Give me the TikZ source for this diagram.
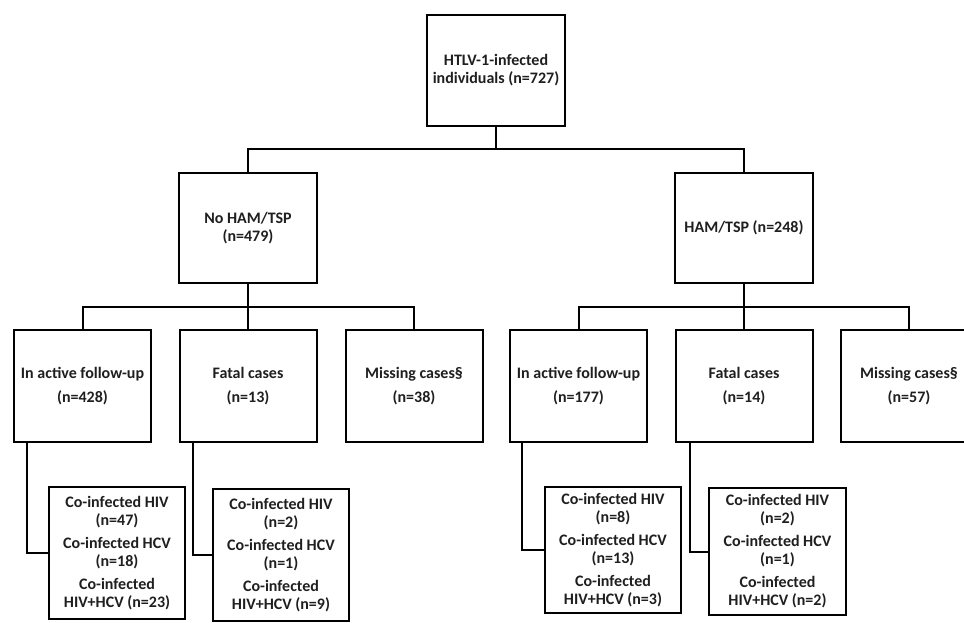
\documentclass[tikz,border=0pt]{standalone}
\usepackage{fontspec}
\setmainfont{Carlito}
\usetikzlibrary{calc}
\begin{document}
\begin{tikzpicture}[x=1pt,y=-1pt,
  box/.style={draw=black,line width=2pt,fill=white,align=center,inner sep=2pt,
    font=\fontsize{16}{18}\selectfont\bfseries,text=black!88,
    minimum width=138pt,minimum height=111pt},
  inbox/.style={box,minimum width=136pt,minimum height=130pt},
  conn/.style={line width=2pt,draw=black}]
\useasboundingbox (0,0) rectangle (964,622);
\fill[white] (0,0) rectangle (964,622);
\clip (0,0) rectangle (964,622);
% level 0
\node[box] (top) at (496,70.5) {HTLV-1-infected\\individuals (n=727)};
% level 1
\node[box,minimum height=110pt] (noham) at (248,228) {No HAM/TSP\\(n=479)};
\node[box,minimum height=110pt] (ham) at (744,228) {HAM/TSP (n=248)};
% level 2
\node[box,minimum width=137pt,minimum height=112pt] (b1) at (82.5,386) {In active follow-up\\[6pt](n=428)};
\node[box,minimum width=137pt,minimum height=112pt] (b2) at (248,386) {Fatal cases\\[6pt](n=13)};
\node[box,minimum width=137pt,minimum height=112pt] (b3) at (414,386) {Missing cases§\\[6pt](n=38)};
\node[box,minimum width=137pt,minimum height=112pt] (b4) at (578.5,386) {In active follow-up\\[6pt](n=177)};
\node[box,minimum width=137pt,minimum height=112pt] (b5) at (744,386) {Fatal cases\\[6pt](n=14)};
\node[box,minimum width=137pt,minimum height=112pt] (b6) at (909,386) {Missing cases§\\[6pt](n=57)};
% level 3
\node[inbox,minimum height=132pt] (i1) at (117,553) {Co-infected HIV\\(n=47)\\[5pt]Co-infected HCV\\(n=18)\\[5pt]Co-infected\\HIV+HCV (n=23)};
\node[inbox,minimum height=132pt] (i2) at (281,555) {Co-infected HIV\\(n=2)\\[5pt]Co-infected HCV\\(n=1)\\[5pt]Co-infected\\HIV+HCV (n=9)};
\node[inbox,minimum height=126pt] (i4) at (613,550) {Co-infected HIV\\(n=8)\\[5pt]Co-infected HCV\\(n=13)\\[5pt]Co-infected\\HIV+HCV (n=3)};
\node[inbox,minimum height=127pt,minimum width=137pt] (i5) at (777.5,551.5) {Co-infected HIV\\(n=2)\\[5pt]Co-infected HCV\\(n=1)\\[5pt]Co-infected\\HIV+HCV (n=2)};
% junctions
\coordinate (j0) at (496,149);
\coordinate (j1) at (248,307);
\coordinate (j2) at (744,307);
% connectors
\draw[conn] (top.south) -- (j0);
\draw[conn] (noham.north) |- (j0) -| (ham.north);
\draw[conn] (noham.south) -- (j1);
\draw[conn] (b1.north) |- (j1) -| (b3.north);
\draw[conn] (j1) -- (b2.north);
\draw[conn] (ham.south) -- (j2);
\draw[conn] (b4.north) |- (j2) -| (b6.north);
\draw[conn] (j2) -- (b5.north);
\draw[conn] ($(b1.south west)+(14,0)$) |- (i1.west);
\draw[conn] ($(b2.south west)+(14,0)$) |- (i2.west);
\draw[conn] ($(b4.south west)+(13,0)$) |- (i4.west);
\draw[conn] ($(b5.south west)+(15,0)$) |- (i5.west);
\end{tikzpicture}
\end{document}
